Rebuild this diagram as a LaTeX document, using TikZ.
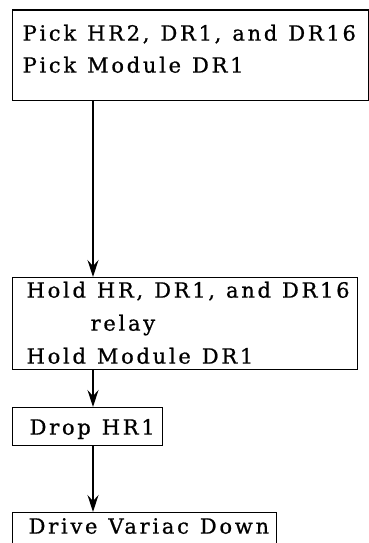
\documentclass[tikz,border=0pt]{standalone}
\usepackage{fontspec}
\newfontfamily\boxfont[LetterSpace=13,FakeBold=0.8]{DejaVu Serif}
\usetikzlibrary{arrows.meta}

\tikzset{
  stepbox/.style={draw, line width=1.3pt, anchor=north west, inner sep=0pt, align=left,
    font=\boxfont\fontsize{21}{33}\selectfont},
  leftpad/.style={execute at begin node={\leftskip=#1\rightskip=-40pt plus 1fil\spaceskip=11pt\relax}},
  flow/.style={line width=1.3pt, -{Stealth[length=17pt,width=11pt,inset=6pt]}}
}

\begin{document}
\begin{tikzpicture}[x=1pt,y=-1pt]
\useasboundingbox (0,0) rectangle (369,543);
\node[stepbox, text width=356pt, text height=30.5pt, text depth=60pt, leftpad=10pt] (pick) at (12,9.5)
  {Pick HR2, DR1, and DR16\\[-1pt]Pick Module DR1};
\node[stepbox, text width=345pt, text height=20pt, text depth=72pt, leftpad=14pt] (hold) at (12,277)
  {Hold HR, DR1, and DR16\\\hspace*{64pt}relay\\Hold Module DR1};
\node[stepbox, text width=150pt, text height=27pt, text depth=11pt, leftpad=17pt] (drop) at (12,407)
  {Drop HR1};
\node[stepbox, text width=264pt, text height=21pt, text depth=25pt, leftpad=16pt] (drive) at (12,512)
  {Drive Variac Down};
\draw[flow] ([xshift=81pt]pick.south west) -- ([xshift=81pt]hold.north west);
\draw[flow] ([xshift=81pt]hold.south west) -- ([xshift=81pt]drop.north west);
\draw[flow] ([xshift=81pt]drop.south west) -- ([xshift=81pt]drive.north west);
\end{tikzpicture}
\end{document}
